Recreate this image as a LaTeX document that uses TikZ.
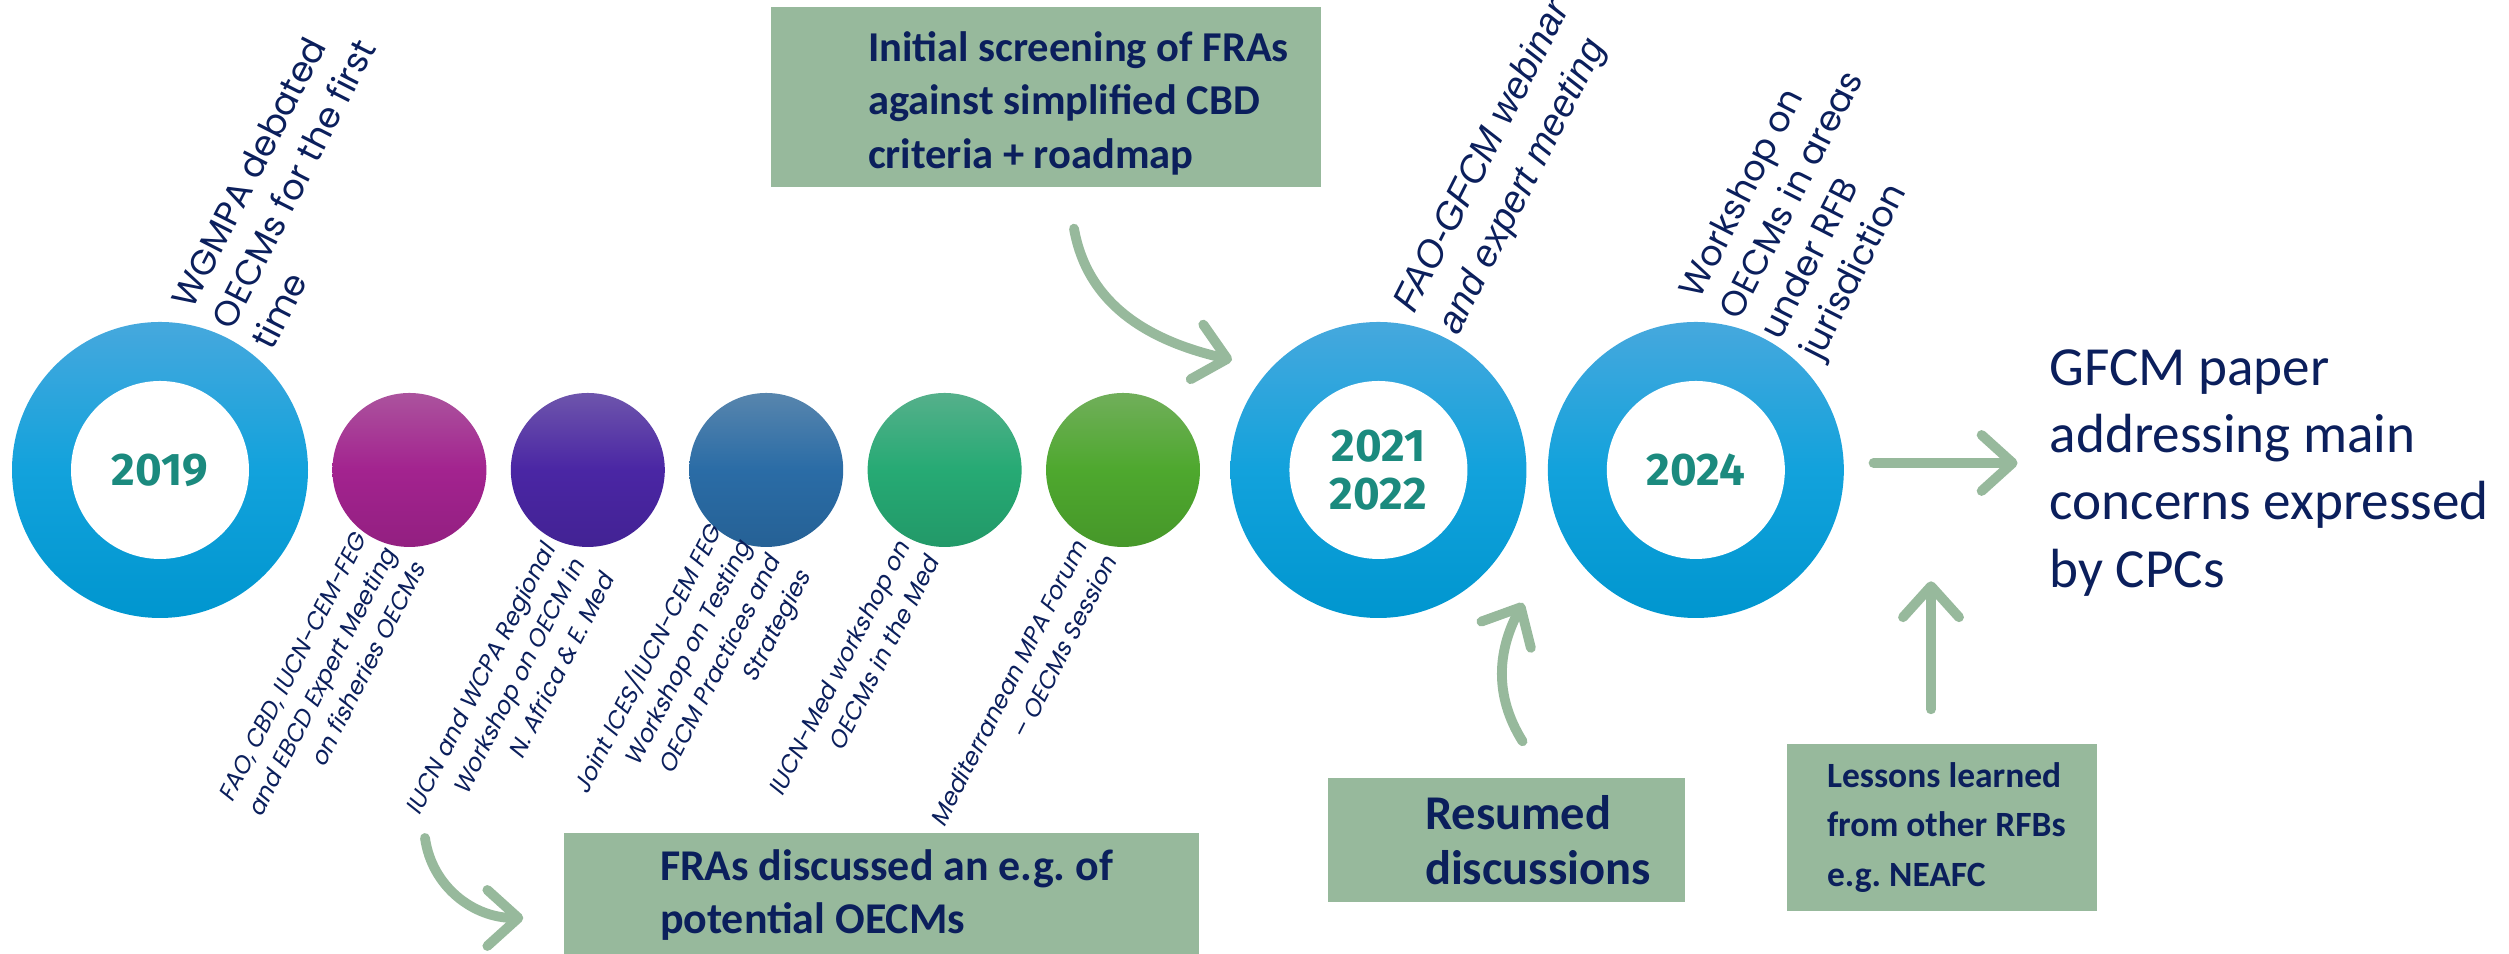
\documentclass[tikz,border=0pt]{standalone}
\usepackage{fontspec}
\setmainfont{Carlito}
\newfontfamily\yearfont{Fira Sans}
\newfontfamily\labfont{Poppins}
\newfontfamily\slabfont[FakeSlant=0.2]{Poppins}
\newfontfamily\arialfont{Liberation Sans}
\usetikzlibrary{arrows.meta,positioning}
\frenchspacing

\definecolor{sage}{HTML}{97B99C}
\definecolor{navy}{HTML}{0B1F5C}
\definecolor{yeargreen}{HTML}{1B8A7E}
\definecolor{ringtop}{HTML}{46A8DD}
\definecolor{ringmid}{HTML}{12A2DC}
\definecolor{ringbot}{HTML}{0096CF}
\definecolor{cmag}{HTML}{A3238F}
\definecolor{cpurp}{HTML}{4A26A4}
\definecolor{csteel}{HTML}{2A6CA6}
\definecolor{cteal}{HTML}{26AA74}
\definecolor{cgreen}{HTML}{4EA82E}

\begin{document}
\begin{tikzpicture}[
    node distance=0.23cm,
    ring/.style={circle,minimum size=2.96cm,inner sep=0,top color=ringtop,bottom color=ringbot,middle color=ringmid,
        path picture={\fill[white] (path picture bounding box.center) circle (0.89);},
        text=yeargreen,align=center,font=\yearfont\bfseries\fontsize{13}{13.7}\selectfont},
    dot/.style={circle,minimum size=1.54cm,inner sep=0,top color=#1!75!white!92!black,bottom color=#1!90!black,middle color=#1},
    note/.style={rectangle,fill=sage,inner sep=0},
    notetext/.style={anchor=west,inner sep=0,align=left,text=navy,font=\bfseries\fontsize{12.5}{15.2}\selectfont},
    uplab/.style={rotate=63,anchor=south west,inner sep=0,align=left,text=navy,font=\labfont\fontsize{10}{12.8}\selectfont},
    lowlab/.style={rotate=63,anchor=north east,inner sep=1mm,align=right,text=navy,font=\slabfont\fontsize{6.8}{9.4}\selectfont},
    flow/.style={draw=sage,line width=2.8pt,line cap=round,-{Straight Barb[length=3.1mm,width=5.6mm,round]}}]
    \useasboundingbox (0,0) rectangle (25.09,9.54);

    % timeline
    \node[ring] (r1) at (1.60,4.84) {2019};
    \node[dot=cmag,right=of r1] (e1) {};
    \node[dot=cpurp,right=of e1] (e2) {};
    \node[dot=csteel,right=of e2] (e3) {};
    \node[dot=cteal,right=of e3] (e4) {};
    \node[dot=cgreen,right=of e4] (e5) {};
    \node[ring,right=0.29cm of e5] (r2) {2021\\2022};
    \node[ring,right=0.2cm of r2] (r3) {2024};

    \node[uplab] (l1) at ([shift={(46:1.63)}]r1.center) {WGMPA debated\\OECMs for the first\\time};
    \node[uplab,font=\arialfont\itshape\fontsize{10.8}{14}\selectfont] (l2) at ([shift={(56:1.556)}]r2.center) {FAO-GFCM webinar\\and expert meeting};
    \node[uplab] (l3) at ([shift={(37.8:1.68)}]r3.center) {Workshop on\\OECMs in areas\\under RFB\\jurisdiction};

    \node[lowlab] (d1) at (e1.-143) {FAO, CBD, IUCN-CEM-FEG\\and EBCD Expert Meeting\\on fisheries OECMs};
    \node[lowlab] (d2) at (e2.-133) {IUCN and WCPA Regional\\Workshop on OECM in\\N. Africa \& E. Med};
    \node[lowlab] (d3) at (e3.-152) {Joint ICES/IUCN-CEM FEG\\Workshop on Testing\\OECM Practices and\\Strategies};
    \node[lowlab] (d4) at (e4.-135) {IUCN-Med workshop on\\OECMs in the Med};
    \node[lowlab] (d5) at (e5.-136) {Mediterranean MPA Forum\\– OECMs Session};

    % boxes
    \node[note,minimum width=5.5cm,minimum height=1.8cm] (screen) at (10.46,8.57) {};
    \node[notetext,font=\bfseries\fontsize{12.1}{15.2}\selectfont] (screentxt) at ([xshift=9.7mm,yshift=-0.6mm]screen.west) {Initial screening of FRAs\\against simplified CBD\\criteria + roadmap};
    \node[note,minimum width=6.35cm,minimum height=1.24cm] (fras) at (8.815,0.59) {};
    \node[notetext] (frastxt) at ([xshift=9.6mm]fras.west) {FRAs discussed an e.g. of\\potential OECMs};
    \node[note,minimum width=3.57cm,minimum height=1.24cm] (resumed) at (15.065,1.14) {};
    \node[notetext,font=\bfseries\fontsize{13.8}{15.7}\selectfont] (resumedtxt) at ([xshift=9.7mm]resumed.west) {Resumed\\discussions};
    \node[note,minimum width=3.10cm,minimum height=1.67cm] (lessons) at (19.42,1.265) {};
    \node[notetext,font=\bfseries\fontsize{10.1}{14.2}\selectfont] (lessonstxt) at ([xshift=4mm]lessons.west) {Lessons learned\\from other RFBs\\e.g. NEAFC};

    \node[anchor=west,align=left,inner sep=0,text=navy,font=\fontsize{15.7}{19.1}\selectfont] (paper) at (20.49,4.81) {GFCM paper\\addressing main\\concerns expressed\\by CPCs};

    % arrows
    \coordinate (t1) at (12.32,5.94);
    \coordinate (s2) at (4.25,1.16);
    \coordinate (t3) at (15.23,3.51);
    \draw[flow] ([xshift=2.8mm,yshift=-4.1mm]screen.south) to[out=-80,in=167] (t1);
    \draw[flow] (s2) to[out=-82,in=180] ([xshift=-4mm,yshift=-2.3mm]fras.west);
    \draw[flow] ([xshift=1.6mm,yshift=3.6mm]resumed.north) to[out=122,in=-118] (t3);
    \draw[flow] ([xshift=-1.1mm,yshift=3.4mm]lessons.north) -- ++(0,1.28);
    \draw[flow] ([xshift=2.9mm,yshift=0.7mm]r3.east) -- ++(1.44,0);
\end{tikzpicture}
\end{document}
